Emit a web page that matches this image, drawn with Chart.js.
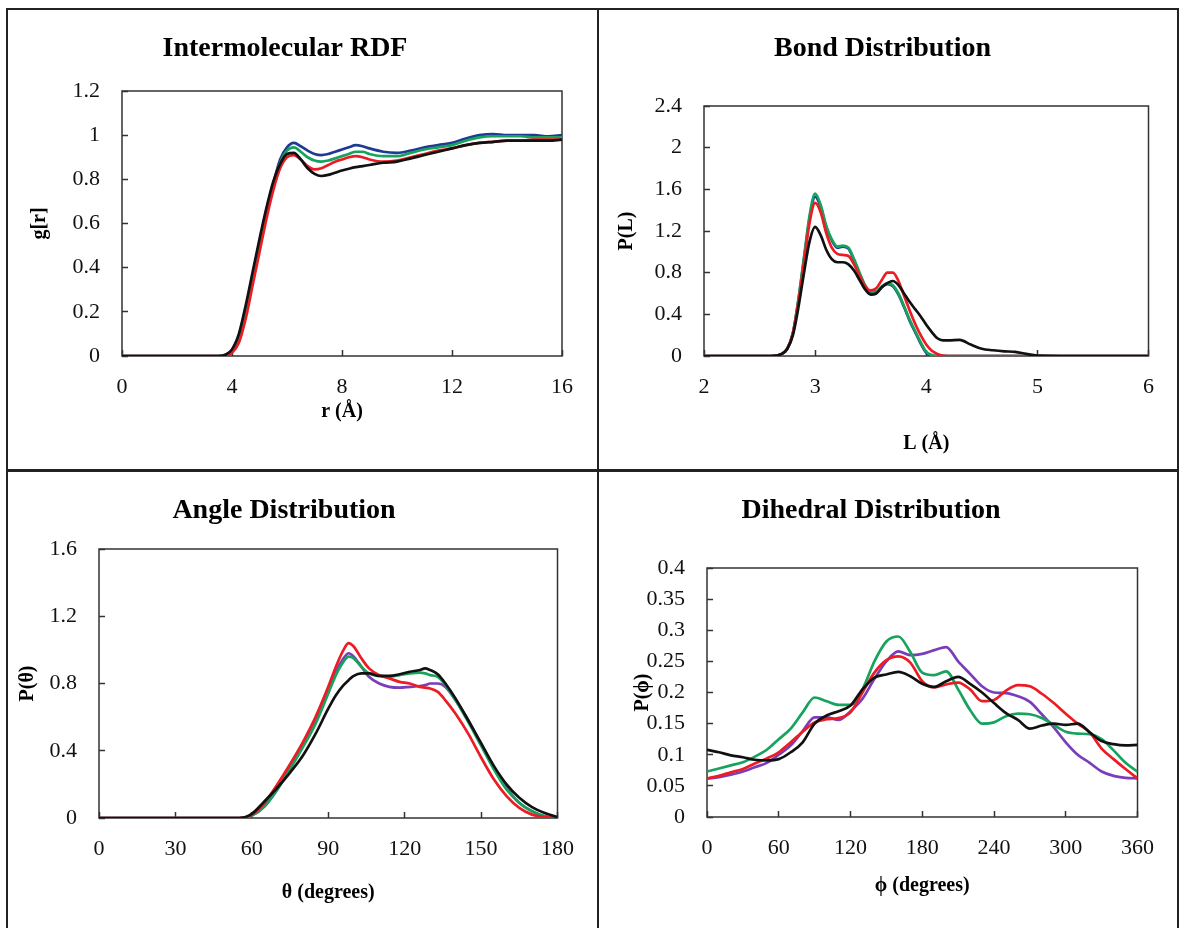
<!DOCTYPE html>
<html><head><meta charset="utf-8">
<script src="https://cdn.jsdelivr.net/npm/chart.js@4.4.1/dist/chart.umd.min.js"></script>
<style>
html,body{margin:0;padding:0;background:#fff;width:1179px;height:928px;overflow:hidden;}
.panel{position:absolute;}
.rule{position:absolute;background:#222;}
</style></head><body>
<div class="rule" style="left:6px;top:8px;width:1173px;height:2px"></div>
<div class="rule" style="left:6px;top:8px;width:2px;height:920px"></div>
<div class="rule" style="left:1177px;top:8px;width:2px;height:920px"></div>
<div class="rule" style="left:597px;top:8px;width:2px;height:920px"></div>
<div class="rule" style="left:6px;top:469px;width:1173px;height:3px"></div>
<div class="panel" style="left:8px;top:10px"><canvas id="c1" width="590" height="460"></canvas></div>
<div class="panel" style="left:600px;top:10px"><canvas id="c2" width="578" height="460"></canvas></div>
<div class="panel" style="left:8px;top:472px"><canvas id="c3" width="590" height="456"></canvas></div>
<div class="panel" style="left:600px;top:472px"><canvas id="c4" width="578" height="456"></canvas></div>
<script>
// ---------- Panel 1: Intermolecular RDF ----------
const rdfR     = [0,1,2,3,3.5,3.75,4,4.25,4.5,4.75,5,5.25,5.5,5.75,6,6.25,6.5,6.75,7,7.25,7.5,7.75,8,8.25,8.5,8.75,9,9.5,10,10.5,11,11.5,12,12.5,13,13.5,14,14.5,15,15.5,16];
const rdfBlue  = [0,0,0,0,0,0.005,0.025,0.09,0.21,0.36,0.515,0.655,0.78,0.89,0.945,0.965,0.95,0.93,0.915,0.91,0.915,0.925,0.935,0.945,0.955,0.95,0.94,0.925,0.92,0.93,0.945,0.955,0.965,0.985,1.0,1.005,1.0,1.0,1.0,0.995,1.0];
const rdfGreen = [0,0,0,0,0,0.005,0.022,0.085,0.2,0.35,0.505,0.645,0.77,0.875,0.93,0.945,0.925,0.9,0.885,0.88,0.885,0.895,0.905,0.915,0.925,0.925,0.915,0.905,0.905,0.92,0.935,0.945,0.955,0.975,0.99,0.995,0.995,0.995,0.99,0.99,0.99];
const rdfRed   = [0,0,0,0,0,0,0.015,0.06,0.17,0.32,0.47,0.62,0.75,0.85,0.9,0.91,0.89,0.86,0.845,0.85,0.865,0.88,0.89,0.9,0.905,0.9,0.89,0.88,0.885,0.9,0.915,0.93,0.94,0.955,0.965,0.97,0.975,0.975,0.98,0.98,0.98];
const rdfBlack = [0,0,0,0,0,0.005,0.03,0.1,0.23,0.38,0.53,0.67,0.79,0.87,0.915,0.92,0.89,0.85,0.825,0.815,0.82,0.83,0.84,0.848,0.855,0.86,0.865,0.875,0.88,0.895,0.91,0.925,0.94,0.955,0.965,0.97,0.975,0.975,0.975,0.975,0.98];

// ---------- Panel 2: Bond Distribution ----------
const bondL     = [2,2.5,2.6,2.7,2.75,2.8,2.85,2.9,2.95,3.0,3.05,3.1,3.15,3.2,3.25,3.3,3.35,3.4,3.45,3.5,3.55,3.6,3.65,3.7,3.75,3.8,3.85,3.9,3.95,4.0,4.05,4.1,4.15,4.2,4.3,4.4,4.5,4.6,4.7,4.8,4.9,5.0,5.5,6.0];
const bondBlue  = [0,0,0,0.02,0.07,0.22,0.54,0.93,1.32,1.53,1.43,1.24,1.11,1.04,1.05,1.03,0.92,0.79,0.67,0.61,0.61,0.66,0.69,0.67,0.59,0.47,0.34,0.23,0.12,0.03,0.005,0,0,0,0,0,0,0,0,0,0,0,0,0];
const bondGreen = [0,0,0,0.02,0.07,0.22,0.55,0.95,1.35,1.56,1.45,1.25,1.12,1.05,1.06,1.04,0.93,0.8,0.68,0.62,0.62,0.67,0.7,0.68,0.6,0.48,0.35,0.24,0.13,0.04,0.01,0,0,0,0,0,0,0,0,0,0,0,0,0];
const bondRed   = [0,0,0,0.02,0.07,0.22,0.52,0.9,1.28,1.47,1.38,1.18,1.04,0.98,0.97,0.96,0.88,0.77,0.67,0.63,0.65,0.73,0.8,0.8,0.72,0.58,0.44,0.31,0.2,0.11,0.05,0.02,0.003,0,0,0,0,0,0,0,0,0,0,0];
const bondBlack = [0,0,0,0.02,0.07,0.2,0.47,0.8,1.1,1.24,1.16,1.02,0.93,0.9,0.9,0.88,0.82,0.73,0.64,0.59,0.6,0.66,0.7,0.72,0.68,0.6,0.52,0.45,0.38,0.3,0.23,0.17,0.15,0.15,0.155,0.11,0.07,0.055,0.045,0.04,0.02,0.005,0,0];

// ---------- Panel 3: Angle Distribution ----------
const angleTheta  = [0,30,50,55,60,65,70,75,80,85,90,93,96,98,100,103,106,110,114,118,122,126,128,130,133,136,140,145,150,155,160,165,170,175,180];
const anglePurple = [0,0,0,0,0.015,0.07,0.17,0.3,0.43,0.57,0.75,0.87,0.95,0.98,0.96,0.9,0.84,0.8,0.78,0.775,0.78,0.785,0.79,0.8,0.8,0.78,0.7,0.58,0.44,0.3,0.18,0.09,0.04,0.01,0];
const angleGreen  = [0,0,0,0,0.015,0.07,0.17,0.29,0.42,0.56,0.74,0.85,0.93,0.96,0.95,0.9,0.86,0.845,0.84,0.85,0.86,0.865,0.86,0.85,0.84,0.79,0.7,0.57,0.43,0.29,0.17,0.09,0.04,0.01,0];
const angleRed    = [0,0,0,0,0.02,0.09,0.2,0.32,0.45,0.6,0.78,0.9,1.0,1.04,1.02,0.95,0.89,0.85,0.83,0.81,0.8,0.78,0.775,0.77,0.75,0.7,0.62,0.5,0.36,0.23,0.13,0.06,0.02,0.005,0];
const angleBlack  = [0,0,0,0,0.025,0.1,0.18,0.27,0.37,0.5,0.65,0.73,0.79,0.82,0.845,0.86,0.86,0.845,0.845,0.855,0.87,0.88,0.89,0.88,0.855,0.8,0.71,0.58,0.445,0.31,0.2,0.12,0.065,0.03,0.005];

// ---------- Panel 4: Dihedral Distribution ----------
const dihedralPhi    = [0,10,20,30,40,50,60,70,80,90,100,110,120,130,140,150,160,170,180,190,200,210,220,230,240,250,260,270,280,290,300,310,320,330,340,350,360];
const dihedralPurple = [0.062,0.064,0.068,0.073,0.08,0.087,0.1,0.115,0.138,0.16,0.16,0.156,0.17,0.19,0.222,0.25,0.266,0.26,0.262,0.268,0.273,0.25,0.23,0.21,0.2,0.199,0.194,0.185,0.165,0.144,0.12,0.1,0.087,0.073,0.066,0.063,0.062];
const dihedralGreen  = [0.073,0.078,0.083,0.088,0.097,0.108,0.125,0.142,0.168,0.192,0.186,0.18,0.18,0.205,0.25,0.282,0.29,0.265,0.232,0.228,0.234,0.205,0.172,0.15,0.152,0.162,0.166,0.165,0.159,0.148,0.137,0.134,0.133,0.125,0.107,0.087,0.073];
const dihedralRed    = [0.062,0.066,0.072,0.077,0.086,0.094,0.104,0.12,0.137,0.152,0.157,0.159,0.168,0.2,0.232,0.252,0.258,0.248,0.218,0.208,0.213,0.216,0.205,0.186,0.188,0.203,0.212,0.21,0.198,0.183,0.166,0.15,0.136,0.11,0.093,0.077,0.062];
const dihedralBlack  = [0.108,0.104,0.099,0.096,0.092,0.091,0.093,0.104,0.12,0.15,0.163,0.17,0.179,0.205,0.224,0.229,0.233,0.226,0.214,0.209,0.218,0.225,0.214,0.2,0.183,0.167,0.156,0.142,0.147,0.15,0.148,0.15,0.136,0.122,0.117,0.115,0.116];

// ---------- styling ----------
const FONT = "'Liberation Serif','Times New Roman',serif";
const COL = { blue:'#1f3a93', purple:'#7a3db8', green:'#17a35e', red:'#ec1c24', black:'#111111' };

const framePlugin = {
  id:'frame',
  beforeDatasetsDraw(chart){
    const {ctx, chartArea:a} = chart;
    ctx.save();
    ctx.strokeStyle = '#333';
    ctx.lineWidth = 1.5;
    ctx.strokeRect(a.left, a.top, a.right - a.left, a.bottom - a.top);
    ctx.restore();
  }
};

function pts(xs, ys){ return xs.map((x,i)=>({x:x, y:ys[i]})); }
const fmt = v => String(+Number(v).toFixed(3));

function makeChart(id, g){
  const datasets = g.series.map(s => ({
    label: s.label,
    data: pts(g.xs, s.ys),
    borderColor: s.color,
    backgroundColor: s.color,
    borderWidth: 2.7,
    pointRadius: 0,
    fill: false,
    cubicInterpolationMode: 'monotone'
  }));
  return new Chart(document.getElementById(id), {
    type: 'line',
    data: { datasets },
    plugins: [framePlugin],
    options: {
      responsive: false,
      animation: false,
      devicePixelRatio: 1,
      events: [],
      layout: { padding: { left: 0, top: 0, right: g.padRight, bottom: 0 } },
      plugins: {
        legend: { display: false },
        tooltip: { enabled: false },
        title: {
          display: true, text: g.title, color: '#000',
          font: { family: FONT, size: 28, weight: 'bold', lineHeight: 1.2 },
          padding: { top: g.titleTop, bottom: g.titleBottom }
        }
      },
      scales: {
        x: {
          type: 'linear', min: g.xMin, max: g.xMax,
          afterFit: s => { s.height = g.xH; },
          ticks: { stepSize: g.xStep, padding: 24, color: '#111', font: { family: FONT, size: 22 }, maxRotation: 0, callback: fmt },
          grid: { drawOnChartArea: false, drawTicks: true, tickLength: -6, tickColor: '#333', tickWidth: 1.5 },
          border: { display: false },
          title: { display: true, text: g.xTitle, color: '#000', font: { family: FONT, size: 20, weight: 'bold', lineHeight: 1.2 }, padding: { top: 0, bottom: g.xTitlePad } }
        },
        y: {
          type: 'linear', min: g.yMin, max: g.yMax,
          afterFit: s => { s.width = g.yW; },
          ticks: { stepSize: g.yStep, padding: 28, color: '#111', font: { family: FONT, size: 22 }, callback: fmt },
          grid: { drawOnChartArea: false, drawTicks: true, tickLength: -6, tickColor: '#333', tickWidth: 1.5 },
          border: { display: false },
          title: { display: true, text: g.yTitle, color: '#000', font: { family: FONT, size: 20, weight: 'bold', lineHeight: 1.2 }, padding: { top: g.yTitlePad, bottom: 0 } }
        }
      }
    }
  });
}

makeChart('c1', {
  title: 'Intermolecular RDF', xTitle: 'r (Å)', yTitle: 'g[r]',
  xs: rdfR,
  series: [
    { label:'black', color: COL.black, ys: rdfBlack },
    { label:'red', color: COL.red, ys: rdfRed },
    { label:'green', color: COL.green, ys: rdfGreen },
    { label:'blue', color: COL.blue, ys: rdfBlue }
  ],
  xMin:0, xMax:16, xStep:4, yMin:0, yMax:1.2, yStep:0.2,
  titleTop: 22, titleBottom: 25.4, yW: 114, xH: 114, padRight: 36, xTitlePad: 46, yTitlePad: 20
});

makeChart('c2', {
  title: 'Bond Distribution', xTitle: 'L (Å)', yTitle: 'P(L)',
  xs: bondL,
  series: [
    { label:'black', color: COL.black, ys: bondBlack },
    { label:'red', color: COL.red, ys: bondRed },
    { label:'green', color: COL.green, ys: bondGreen },
    { label:'blue', color: COL.blue, ys: bondBlue }
  ],
  xMin:2, xMax:6, xStep:1, yMin:0, yMax:2.4, yStep:0.4,
  titleTop: 22, titleBottom: 40.4, yW: 104, xH: 114, padRight: 13, xTitlePad: 14, yTitlePad: 15
});

makeChart('c3', {
  title: 'Angle Distribution', xTitle: 'θ (degrees)', yTitle: 'P(θ)',
  xs: angleTheta,
  series: [
    { label:'black', color: COL.black, ys: angleBlack },
    { label:'red', color: COL.red, ys: angleRed },
    { label:'green', color: COL.green, ys: angleGreen },
    { label:'purple', color: COL.purple, ys: anglePurple }
  ],
  xMin:0, xMax:180, xStep:30, yMin:0, yMax:1.6, yStep:0.4,
  titleTop: 22, titleBottom: 21.4, yW: 91, xH: 110, padRight: 38, xTitlePad: 23, yTitlePad: 8
});

makeChart('c4', {
  title: 'Dihedral Distribution', xTitle: 'ϕ (degrees)', yTitle: 'P(ϕ)',
  xs: dihedralPhi,
  series: [
    { label:'black', color: COL.black, ys: dihedralBlack },
    { label:'red', color: COL.red, ys: dihedralRed },
    { label:'green', color: COL.green, ys: dihedralGreen },
    { label:'purple', color: COL.purple, ys: dihedralPurple }
  ],
  xMin:0, xMax:360, xStep:60, yMin:0, yMax:0.4, yStep:0.05,
  titleTop: 22, titleBottom: 40.4, yW: 107, xH: 111, padRight: 36, xTitlePad: 30, yTitlePad: 31
});
</script>
</body></html>
